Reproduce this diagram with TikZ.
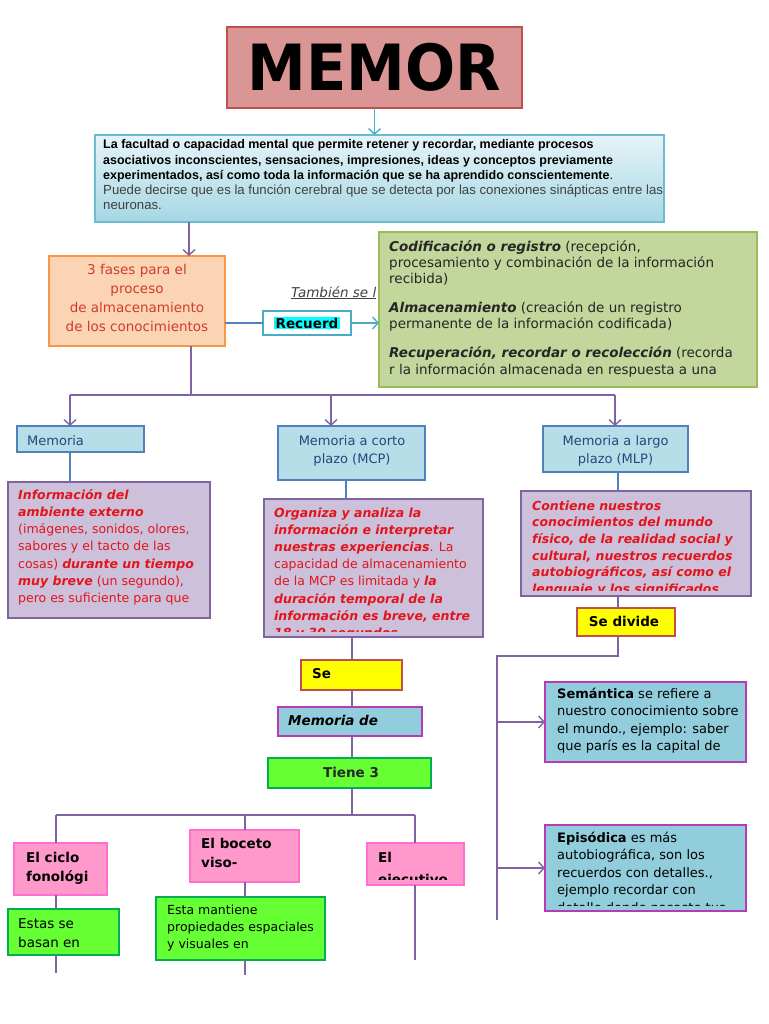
\documentclass[tikz,border=0pt]{standalone}
\usepackage{fontspec}
\usepackage{graphicx}
\setmainfont{DejaVu Sans}
\newfontfamily\arialf{Liberation Sans}
\usetikzlibrary{arrows.meta,calc}
\definecolor{titlefill}{HTML}{D99694}
\definecolor{titledraw}{HTML}{C0504D}
\definecolor{desctop}{HTML}{E6F4F8}
\definecolor{descbot}{HTML}{A6D7E4}
\definecolor{descdraw}{HTML}{6DBBD0}
\definecolor{peach}{HTML}{FBD4B4}
\definecolor{orangedraw}{HTML}{F79646}
\definecolor{peachtext}{HTML}{D13B2F}
\definecolor{teal}{HTML}{4BACC6}
\definecolor{greenfill}{HTML}{C3D69B}
\definecolor{greendraw}{HTML}{9BBB59}
\definecolor{gtext}{HTML}{262626}
\definecolor{lbfill}{HTML}{B7DEE8}
\definecolor{lbdraw}{HTML}{4F81BD}
\definecolor{lbtext}{HTML}{1F497D}
\definecolor{pfill}{HTML}{CCC0DA}
\definecolor{pdraw}{HTML}{8064A2}
\definecolor{redtext}{HTML}{E3141B}
\definecolor{yellowfill}{HTML}{FFFF00}
\definecolor{mbfill}{HTML}{92CDDC}
\definecolor{magdraw}{HTML}{B83AB4}
\definecolor{lime}{HTML}{66FF33}
\definecolor{limedraw}{HTML}{00B050}
\definecolor{pinkfill}{HTML}{FF99CC}
\definecolor{pinkdraw}{HTML}{FF6FCF}
\definecolor{hl}{HTML}{00FFFF}
\definecolor{grey4}{HTML}{404040}
\newcommand\bx[6]{\node[#2, minimum width={#5pt-#3pt}, minimum height={#6pt-#4pt}] (#1) at (#3,#4) {};}
\newcommand\clipin[3]{\clip ($(#1.south west)+(#2pt,#3pt)$) rectangle ($(#1.north east)+(-#2pt,-#2pt)$);}
\begin{document}
\begin{tikzpicture}[x=1pt,y=-1pt,
  box/.style={anchor=north west, inner sep=0pt, outer sep=0pt, line width=1.8pt},
  lbbox/.style={box, fill=lbfill, draw=lbdraw},
  pbox/.style={box, fill=pfill, draw=pdraw},
  ybox/.style={box, fill=yellowfill, draw=titledraw},
  mbox/.style={box, fill=mbfill, draw=magdraw},
  gbox/.style={box, fill=lime, draw=limedraw},
  pkbox/.style={box, fill=pinkfill, draw=pinkdraw},
  txt/.style={anchor=base west, inner sep=0pt, align=left},
  txtc/.style={anchor=base, inner sep=0pt, align=center},
  con/.style={line width=1.7pt, draw=pdraw},
  bcon/.style={line width=1.7pt, draw=lbdraw},
  tip/.style={-{Straight Barb[length=5.5pt,width=12pt,line width=1.4pt]}},
  arr/.style={con, tip},
  larr/.style={line width=1.5pt, draw=teal, tip}]
\useasboundingbox[fill=white] (0,0) rectangle (768,1024);

% ---------- boxes (text anchors are at the LAST line's baseline) ----------
\bx{title}{box, fill=titlefill, draw=titledraw}{227}{27}{522}{108}
\node[inner sep=0pt] (titleT) at (title.center) {\fontsize{59}{60}\selectfont\bfseries\scalebox{1}[1.08]{MEMOR}};

\bx{desc}{box, top color=desctop, bottom color=descbot, draw=descdraw, line width=1.4pt}{95}{135}{664}{222}
\node[txt, font=\arialf\fontsize{12.5}{15.2}\selectfont, text=black] (descT) at (103,209.8)
 {\textbf{La facultad o capacidad mental que permite retener y recordar, mediante procesos}\\
  \textbf{asociativos inconscientes, sensaciones, impresiones, ideas y conceptos previamente}\\
  \textbf{experimentados, así como toda la información que se ha aprendido conscientemente}.\\
  {\fontsize{13.2}{15.2}\selectfont\color{grey4}Puede decirse que es la función cerebral que se detecta por las conexiones sinápticas entre las}\\
  {\fontsize{13.2}{15.2}\selectfont\color{grey4}neuronas.}};

\bx{fases}{box, fill=peach, draw=orangedraw, line width=2.3pt}{49}{256}{225}{346}
\begin{scope}\clipin{fases}{2}{4}
\node[txtc, font=\fontsize{13.5}{19}\selectfont, text=peachtext] (fasesT) at (137,331)
 {3 fases para el\\proceso\\de almacenamiento\\de los conocimientos};
\end{scope}

\node[txt, font=\fontsize{13.5}{16}\selectfont\itshape, text=grey4] (tamb) at (291,297) {\underline{También se l}};

\bx{recu}{box, fill=white, draw=teal, line width=2.3pt}{263}{311}{351}{335}
\node[fill=hl, inner sep=1.2pt, font=\fontsize{13.5}{16}\selectfont\bfseries, text=black] (recuT) at (recu.center) {Recuerd};

\bx{green}{box, fill=greenfill, draw=greendraw, line width=2pt}{379}{232}{757}{387}
\begin{scope}\clipin{green}{1}{4}
\node[txt, font=\fontsize{13.5}{16.3}\selectfont, text=gtext] (greenT) at (389,374.2)
 {\textbf{\textit{Codificación o registro}} (recepción,\\
  procesamiento y combinación de la información\\
  recibida)\\[12.7pt]
  \textbf{\textit{Almacenamiento}} (creación de un registro\\
  permanente de la información codificada)\\[12.7pt]
  \textbf{\textit{Recuperación, recordar o recolección}} (recorda\\
  r la información almacenada en respuesta a una};
\end{scope}

\bx{mem}{lbbox}{17}{426}{144}{452}
\node[txt, font=\fontsize{13}{18}\selectfont, text=lbtext] (memT) at (27,445) {Memoria};
\bx{mcp}{lbbox}{278}{426}{425}{480}
\node[txtc, font=\fontsize{13}{18.5}\selectfont, text=lbtext] (mcpT) at (352,463.5) {Memoria a corto\\plazo (MCP)};
\bx{mlp}{lbbox}{543}{426}{688}{472}
\node[txtc, font=\fontsize{13}{18.5}\selectfont, text=lbtext] (mlpT) at (615.5,463.5) {Memoria a largo\\plazo (MLP)};

\bx{p1}{pbox}{8}{482}{210}{618}
\begin{scope}\clipin{p1}{2}{5}
\node[txt, font=\fontsize{12.5}{17.3}\selectfont, text=redtext] (p1T) at (18,602.8)
 {\textbf{\textit{Información del}}\\
  \textbf{\textit{ambiente externo}}\\
  (imágenes, sonidos, olores,\\
  sabores y el tacto de las\\
  cosas) \textbf{\textit{durante un tiempo}}\\
  \textbf{\textit{muy breve}} (un segundo),\\
  pero es suficiente para que};
\end{scope}

\bx{p2}{pbox}{264}{499}{483}{637}
\begin{scope}\clipin{p2}{2}{6}
\node[txt, font=\fontsize{12.5}{17.2}\selectfont, text=redtext] (p2T) at (274,637.4)
 {\textbf{\textit{Organiza y analiza la}}\\
  \textbf{\textit{información e interpretar}}\\
  \textbf{\textit{nuestras experiencias}}. La\\
  capacidad de almacenamiento\\
  de la MCP es limitada y \textbf{\textit{la}}\\
  \textbf{\textit{duración temporal de la}}\\
  \textbf{\textit{información es breve, entre}}\\
  \textbf{\textit{18 y 30 segundos}}};
\end{scope}

\bx{p3}{pbox}{521}{491}{751}{596}
\begin{scope}\clipin{p3}{2}{6}
\node[txt, font=\fontsize{12.5}{16.7}\selectfont\bfseries\itshape, text=redtext] (p3T) at (532,593.5)
 {Contiene nuestros\\
  conocimientos del mundo\\
  físico, de la realidad social y\\
  cultural, nuestros recuerdos\\
  autobiográficos, así como el\\
  lenguaje y los significados};
\end{scope}

\bx{sediv}{ybox}{577}{608}{675}{636}
\node[txtc, font=\fontsize{13.5}{16}\selectfont\bfseries, text=black] (sedivT) at (624,626) {Se divide};

\bx{sem}{mbox}{545}{682}{746}{762}
\node[txt, font=\fontsize{13}{17.6}\selectfont, text=black] (semT) at (557,750.8)
 {\textbf{Semántica} se refiere a\\nuestro conocimiento sobre\\el mundo., ejemplo: saber\\que parís es la capital de};

\bx{epi}{mbox}{545}{825}{746}{911}
\begin{scope}\clipin{epi}{2}{6}
\node[txt, font=\fontsize{13}{17.5}\selectfont, text=black] (epiT) at (557,912)
 {\textbf{Episódica} es más\\autobiográfica, son los\\recuerdos con detalles.,\\ejemplo recordar con\\detalle donde pasaste tus};
\end{scope}

\bx{se}{ybox}{301}{660}{402}{690}
\node[txt, font=\fontsize{13.5}{16}\selectfont\bfseries, text=black] (seT) at (312,678) {Se};
\bx{memde}{mbox}{278}{707}{422}{736}
\node[txt, font=\fontsize{13.5}{16}\selectfont\bfseries\itshape, text=black] (memdeT) at (288,725) {Memoria de};
\bx{tiene}{gbox}{268}{758}{431}{788}
\node[txtc, font=\fontsize{13.5}{16}\selectfont\bfseries, text=gtext] (tieneT) at (351,777) {Tiene 3};

\bx{ciclo}{pkbox}{14}{843}{107}{895}
\node[txt, font=\fontsize{13.5}{19}\selectfont\bfseries, text=black] (cicloT) at (26,881) {El ciclo\\fonológi};
\bx{estas}{gbox}{8}{909}{119}{955}
\node[txt, font=\fontsize{13.5}{19}\selectfont, text=black] (estasT) at (18,947) {Estas se\\basan en};
\bx{boceto}{pkbox}{190}{830}{299}{882}
\node[txt, font=\fontsize{13.5}{19}\selectfont\bfseries, text=black] (bocetoT) at (201,867) {El boceto\\viso-};
\bx{esta}{gbox}{156}{897}{325}{960}
\node[txt, font=\fontsize{12.5}{17}\selectfont, text=black] (estaT) at (167,948) {Esta mantiene\\propiedades espaciales\\y visuales en};
\bx{ejec}{pkbox}{367}{843}{464}{885}
\begin{scope}\clipin{ejec}{2}{6}
\node[txt, font=\fontsize{13.5}{22}\selectfont\bfseries, text=black] (ejecT) at (378,884) {El\\ejecutivo};
\end{scope}

% ---------- coordinates ----------
\coordinate (xa) at (189,0);
\coordinate (hb) at (191,395);
\coordinate (hL) at (70,395);
\coordinate (hM) at (331,395);
\coordinate (hR) at (615,395);
\coordinate (xm) at (346,0);
\coordinate (xr) at (618,0);
\coordinate (bend1) at (618,656);
\coordinate (vx) at (497,656);
\coordinate (vend) at (497,920);
\coordinate (xc) at (352,0);
\coordinate (tb) at (352,815);
\coordinate (tL) at (56,815);
\coordinate (tM) at (245,815);
\coordinate (tR) at (415,815);
\coordinate (e1) at (56,973);
\coordinate (e2) at (245,975);
\coordinate (e3) at (415,960);

% ---------- connectors ----------
\draw[larr] (title.south) -- (title.south |- desc.north);
\draw[arr] (xa |- desc.south) -- (xa |- fases.north);
\draw[bcon] (recu.west -| fases.east) -- (recu.west);
\draw[larr] (recu.east) -- (recu.east -| green.west);
\draw[con] (hb |- fases.south) -- (hb);
\draw[con] (hL) -- (hR);
\draw[arr] (hL) -- (hL |- mem.north);
\draw[arr] (hM) -- (hM |- mcp.north);
\draw[arr] (hR) -- (hR |- mlp.north);
\draw[bcon] (hL |- mem.south) -- (hL |- p1.north);
\draw[bcon] (xm |- mcp.south) -- (xm |- p2.north);
\draw[bcon] (xr |- mlp.south) -- (xr |- p3.north);
\draw[con] (xr |- p3.south) -- (xr |- sediv.north);
\draw[con] (xr |- sediv.south) -- (bend1) -- (vx) -- (vend);
\draw[arr] (vx |- sem.west) -- (sem.west);
\draw[arr] (vx |- epi.west) -- (epi.west);
\draw[con] (xc |- p2.south) -- (xc |- se.north);
\draw[con] (xc |- se.south) -- (xc |- memde.north);
\draw[con] (xc |- memde.south) -- (xc |- tiene.north);
\draw[con] (xc |- tiene.south) -- (tb);
\draw[con] (tL) -- (tR);
\draw[con] (tL) -- (tL |- ciclo.north);
\draw[con] (tM) -- (tM |- boceto.north);
\draw[con] (tR) -- (tR |- ejec.north);
\draw[con] (tL |- ciclo.south) -- (tL |- estas.north);
\draw[con] (tL |- estas.south) -- (e1);
\draw[con] (tM |- boceto.south) -- (tM |- esta.north);
\draw[con] (tM |- esta.south) -- (e2);
\draw[con] (tR |- ejec.south) -- (e3);
\end{tikzpicture}
\end{document}
